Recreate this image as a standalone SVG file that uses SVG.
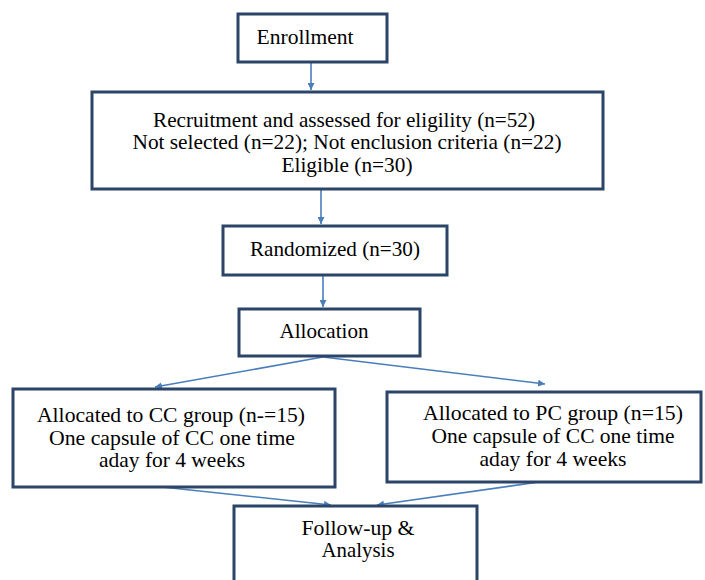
<svg xmlns="http://www.w3.org/2000/svg" width="705" height="580" viewBox="0 0 705 580">
<defs>
<style>
.box{fill:#fff;stroke:#2b4468;stroke-width:3}
.t{font-size:21px;fill:#000;text-anchor:middle}
.c{fill:none;stroke:#4a7ebb;stroke-width:1.6}
</style>
<marker id="ah" viewBox="0 0 10 10" refX="10" refY="5" markerWidth="7" markerHeight="7" markerUnits="userSpaceOnUse" orient="auto">
<path d="M0,0 L10,5 L0,10 z" fill="#4a7ebb"/>
</marker>
</defs>
<rect width="705" height="580" fill="#fff"/>
<g id="connectors">
<line class="c" x1="311" y1="62" x2="311" y2="90" marker-end="url(#ah)"/>
<line class="c" x1="321" y1="189" x2="321" y2="224" marker-end="url(#ah)"/>
<line class="c" x1="323" y1="275" x2="323" y2="307" marker-end="url(#ah)"/>
<line class="c" x1="323" y1="357" x2="155" y2="387" marker-end="url(#ah)"/>
<line class="c" x1="323" y1="357" x2="545" y2="384" marker-end="url(#ah)"/>
<line class="c" x1="143" y1="485" x2="331" y2="505" marker-end="url(#ah)"/>
<line class="c" x1="560" y1="479" x2="377" y2="505" marker-end="url(#ah)"/>
</g>
<g font-family="Liberation Serif">
<g id="enrollment">
<rect class="box" x="238" y="14" width="149" height="48"/>
<text class="t" font-family="Liberation Serif" x="305" y="44" textLength="97" lengthAdjust="spacingAndGlyphs">Enrollment</text>
</g>
<g id="recruitment">
<rect class="box" x="92" y="92" width="511" height="97"/>
<text class="t" font-family="Liberation Serif" x="344" y="127" textLength="382" lengthAdjust="spacingAndGlyphs">Recruitment and assessed  for eligility (n=52)</text>
<text class="t" font-family="Liberation Serif" x="347" y="149" textLength="429" lengthAdjust="spacingAndGlyphs">Not selected (n=22); Not enclusion criteria (n=22)</text>
<text class="t" font-family="Liberation Serif" x="347" y="172" textLength="131" lengthAdjust="spacingAndGlyphs">Eligible (n=30)</text>
</g>
<g id="randomized">
<rect class="box" x="223" y="226" width="224" height="49"/>
<text class="t" font-family="Liberation Serif" x="335" y="256" textLength="170" lengthAdjust="spacingAndGlyphs">Randomized (n=30)</text>
</g>
<g id="allocation">
<rect class="box" x="239" y="309" width="181" height="47"/>
<text class="t" font-family="Liberation Serif" x="324" y="338" textLength="89" lengthAdjust="spacingAndGlyphs">Allocation</text>
</g>
<g id="cc-group">
<rect class="box" x="13" y="389" width="322" height="98"/>
<text class="t" font-family="Liberation Serif" x="171" y="422" textLength="268" lengthAdjust="spacingAndGlyphs">Allocated to CC group (n-=15)</text>
<text class="t" font-family="Liberation Serif" x="172" y="445" textLength="246" lengthAdjust="spacingAndGlyphs">One capsule of CC one time</text>
<text class="t" font-family="Liberation Serif" x="172" y="467" textLength="146" lengthAdjust="spacingAndGlyphs">aday for 4 weeks</text>
</g>
<g id="pc-group">
<rect class="box" x="387" y="392" width="314" height="90"/>
<text class="t" font-family="Liberation Serif" x="553" y="420" textLength="260" lengthAdjust="spacingAndGlyphs">Allocated to PC group (n=15)</text>
<text class="t" font-family="Liberation Serif" x="553" y="443" textLength="243" lengthAdjust="spacingAndGlyphs">One capsule of CC one time</text>
<text class="t" font-family="Liberation Serif" x="553" y="466" textLength="147" lengthAdjust="spacingAndGlyphs">aday for 4 weeks</text>
</g>
<g id="follow-up">
<rect class="box" x="234" y="506" width="243" height="90"/>
<text class="t" font-family="Liberation Serif" x="358" y="535" textLength="113" lengthAdjust="spacingAndGlyphs">Follow-up &amp;</text>
<text class="t" font-family="Liberation Serif" x="358" y="557" textLength="73" lengthAdjust="spacingAndGlyphs">Analysis</text>
</g>
</g>
</svg>
